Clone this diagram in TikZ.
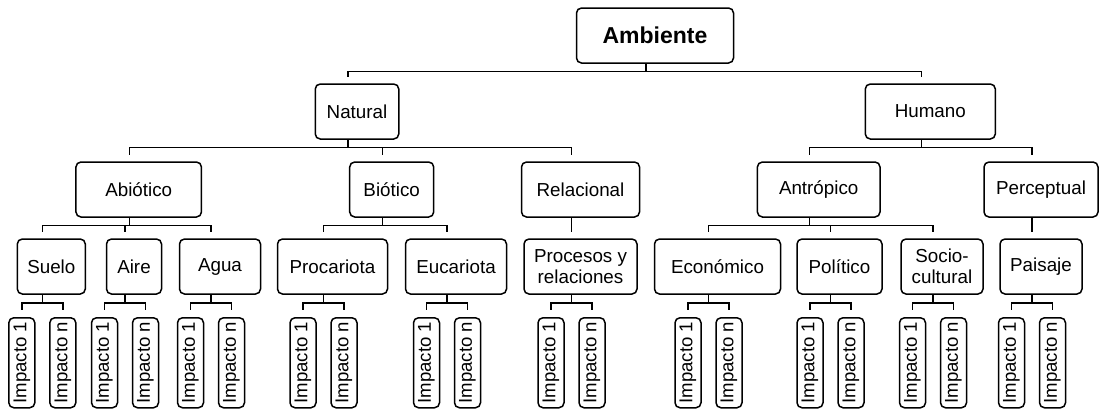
\documentclass[tikz,border=0pt]{standalone}
\usepackage{fontspec}
\setmainfont{Liberation Sans}
\usetikzlibrary{calc}

\begin{document}
\begin{tikzpicture}[x = 1pt, y = -1pt,
	caja/.style = {draw, line width = 1.5pt, rounded corners = 5pt, minimum height = 55pt, inner sep = 0pt, align = center, font = \fontsize{18.8}{21.5}\selectfont},
	impacto/.style = {draw, line width = 1.5pt, rounded corners = 5pt, rotate = 90, minimum width = 90pt, minimum height = 26pt, inner sep = 0pt, font = \fontsize{18.6}{21.5}\selectfont},
	rama/.style = {line width = 1.5pt}]
	\useasboundingbox (0, 0) rectangle (1099, 408);

	\node[caja, minimum width = 157pt, font = \fontsize{23}{26}\selectfont\bfseries] (amb) at (655, 35.5){Ambiente};

	\node[caja, minimum width = 83.5pt] (nat) at (357, 111.5){Natural};
	\node[caja, minimum width = 130pt] (hum) at (930.3, 111.5){Humano};

	\node[caja, minimum width = 125.5pt] (abio) at (138.7, 189.5){Abiótico};
	\node[caja, minimum width = 84pt] (bio) at (391.7, 189.5){Biótico};
	\node[caja, minimum width = 118pt] (rel) at (580.5, 189.5){Relacional};
	\node[caja, minimum width = 122.6pt] (antr) at (818.7, 189.5){Antrópico};
	\node[caja, minimum width = 114pt] (perc) at (1041, 189.5){Perceptual};

	\node[caja, minimum width = 68pt] (suelo) at (51.3, 266.5){Suelo};
	\node[caja, minimum width = 55pt] (aire) at (134, 266.5){Aire};
	\node[caja, minimum width = 81pt] (agua) at (220, 266.5){Agua};
	\node[caja, minimum width = 110pt] (proc) at (332.5, 266.5){Procariota};
	\node[caja, minimum width = 101pt] (euca) at (456, 266.5){Eucariota};
	\node[caja, minimum width = 113pt] (pyr) at (580.5, 266.5){Procesos y\\relaciones};
	\node[caja, minimum width = 126pt] (econ) at (717.5, 266.5){Económico};
	\node[caja, minimum width = 85pt] (poli) at (839.5, 266.5){Político};
	\node[caja, minimum width = 82pt] (soci) at (942, 266.5){Socio-\\cultural};
	\node[caja, minimum width = 82pt] (pais) at (1041, 266.5){Paisaje};

	\foreach \p/\c in {amb/nat, amb/hum, nat/abio, nat/bio, nat/rel, hum/antr, hum/perc, abio/suelo, abio/aire, abio/agua, bio/proc, bio/euca, rel/pyr, antr/econ, antr/poli, antr/soci, perc/pais}
		\draw[rama] ([xshift = -9pt]\p.south) -- ++(0, 7.5) -| ([xshift = -9pt, yshift = 6.5pt]\c.north);

	\foreach \p in {suelo, aire, agua, proc, euca, pyr, econ, poli, soci, pais}{
		\node[impacto] (\p-1) at ($(\p.south)+(-29.5, 68)$){Impacto 1};
		\node[impacto] (\p-n) at ($(\p.south)+(11.5, 68)$){Impacto n};
		\draw[rama] ([xshift = -9pt]\p.south) -- ++(0, 8) -| ([yshift = 7pt]\p-1.east);
		\draw[rama] ([xshift = -9pt]\p.south) -- ++(0, 8) -| ([yshift = 7pt]\p-n.east);
	}
\end{tikzpicture}
\end{document}
